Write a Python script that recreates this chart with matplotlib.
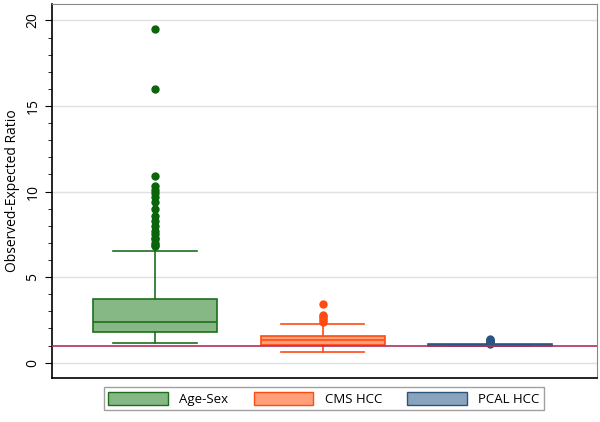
import numpy as np
import matplotlib.pyplot as plt

plt.rcParams['font.family'] = ['Open Sans', 'DejaVu Sans']

# data (box stats)
labels = ['Age-Sex', 'CMS HCC', 'PCAL HCC']
q1 = [1.81, 1.05, 0.97]
med = [2.40, 1.30, 1.02]
q3 = [3.74, 1.58, 1.07]
wlo = [1.17, 0.64, 0.95]
whi = [6.55, 2.26, 1.06]
fliers = [
    [6.8, 6.9, 7.0, 7.2, 7.3, 7.5, 7.7, 8.0, 8.3, 8.6, 9.0, 9.4, 9.7, 9.9, 10.1, 10.3, 10.9, 16.0, 19.5],
    [2.4, 2.5, 2.6, 2.7, 2.8, 3.45],
    [1.1, 1.15, 1.2, 1.25, 1.3, 1.35, 1.4],
]
fills = ['#86b886', '#ffa07a', '#8aa4be']
edges = ['#1e6e1e', '#ff4a10', '#2b5480']
flier_cols = ['#0a640a', '#ff4a10', '#2b5480']

fig, ax = plt.subplots(figsize=(6, 4.22), dpi=100)
fig.subplots_adjust(left=0.087, right=0.995, top=0.99, bottom=0.105)

stats = []
for i in range(3):
    stats.append(dict(label=labels[i], q1=q1[i], med=med[i], q3=q3[i],
                      whislo=wlo[i], whishi=whi[i], fliers=fliers[i]))

for i, s in enumerate(stats):
    ax.bxp([s], positions=[i + 1], widths=0.74, patch_artist=True,
           boxprops=dict(facecolor=fills[i], edgecolor=edges[i], linewidth=1.2),
           medianprops=dict(color=edges[i], linewidth=1.2),
           whiskerprops=dict(color=edges[i], linewidth=1.2),
           capprops=dict(color=edges[i], linewidth=1.2),
           capwidths=0.5,
           flierprops=dict(marker='o', markerfacecolor=flier_cols[i],
                           markeredgecolor=flier_cols[i], markersize=5),
           zorder=3)

ax.axhline(1, color='#b0305a', linewidth=1.2, zorder=4)

ax.set_xlim(0.387, 3.637)
ax.set_ylim(-0.88, 20.95)
ax.set_xticks([])
ax.set_yticks([0, 5, 10, 15, 20])
ax.set_yticks(np.arange(0, 21, 1), minor=True)
ax.tick_params(axis='y', which='major', labelsize=10, length=5, labelrotation=90)
ax.tick_params(axis='y', which='minor', length=3)
for t in ax.get_yticklabels():
    t.set_va('center')
ax.yaxis.grid(True, color='#e0e0e0', linewidth=1)
ax.set_axisbelow(True)
ax.set_ylabel('Observed-Expected Ratio', fontsize=10)

for sp in ['top', 'right']:
    ax.spines[sp].set_color('#888888')
    ax.spines[sp].set_linewidth(0.8)
for sp in ['left', 'bottom']:
    ax.spines[sp].set_color('black')
    ax.spines[sp].set_linewidth(1.2)

handles = [plt.Rectangle((0, 0), 1, 1, facecolor=fills[i], edgecolor=edges[i], linewidth=1)
           for i in range(3)]
leg = fig.legend(handles, labels, loc='lower center', bbox_to_anchor=(0.54, 0.012),
                 ncol=3, frameon=True, fancybox=False, fontsize=9.5,
                 handlelength=4.5, handleheight=1.1, columnspacing=1.9, handletextpad=0.9,
                 borderpad=0.35)
leg.get_frame().set_edgecolor('#888888')
leg.get_frame().set_linewidth(1)

plt.savefig('out.png', dpi=100)
